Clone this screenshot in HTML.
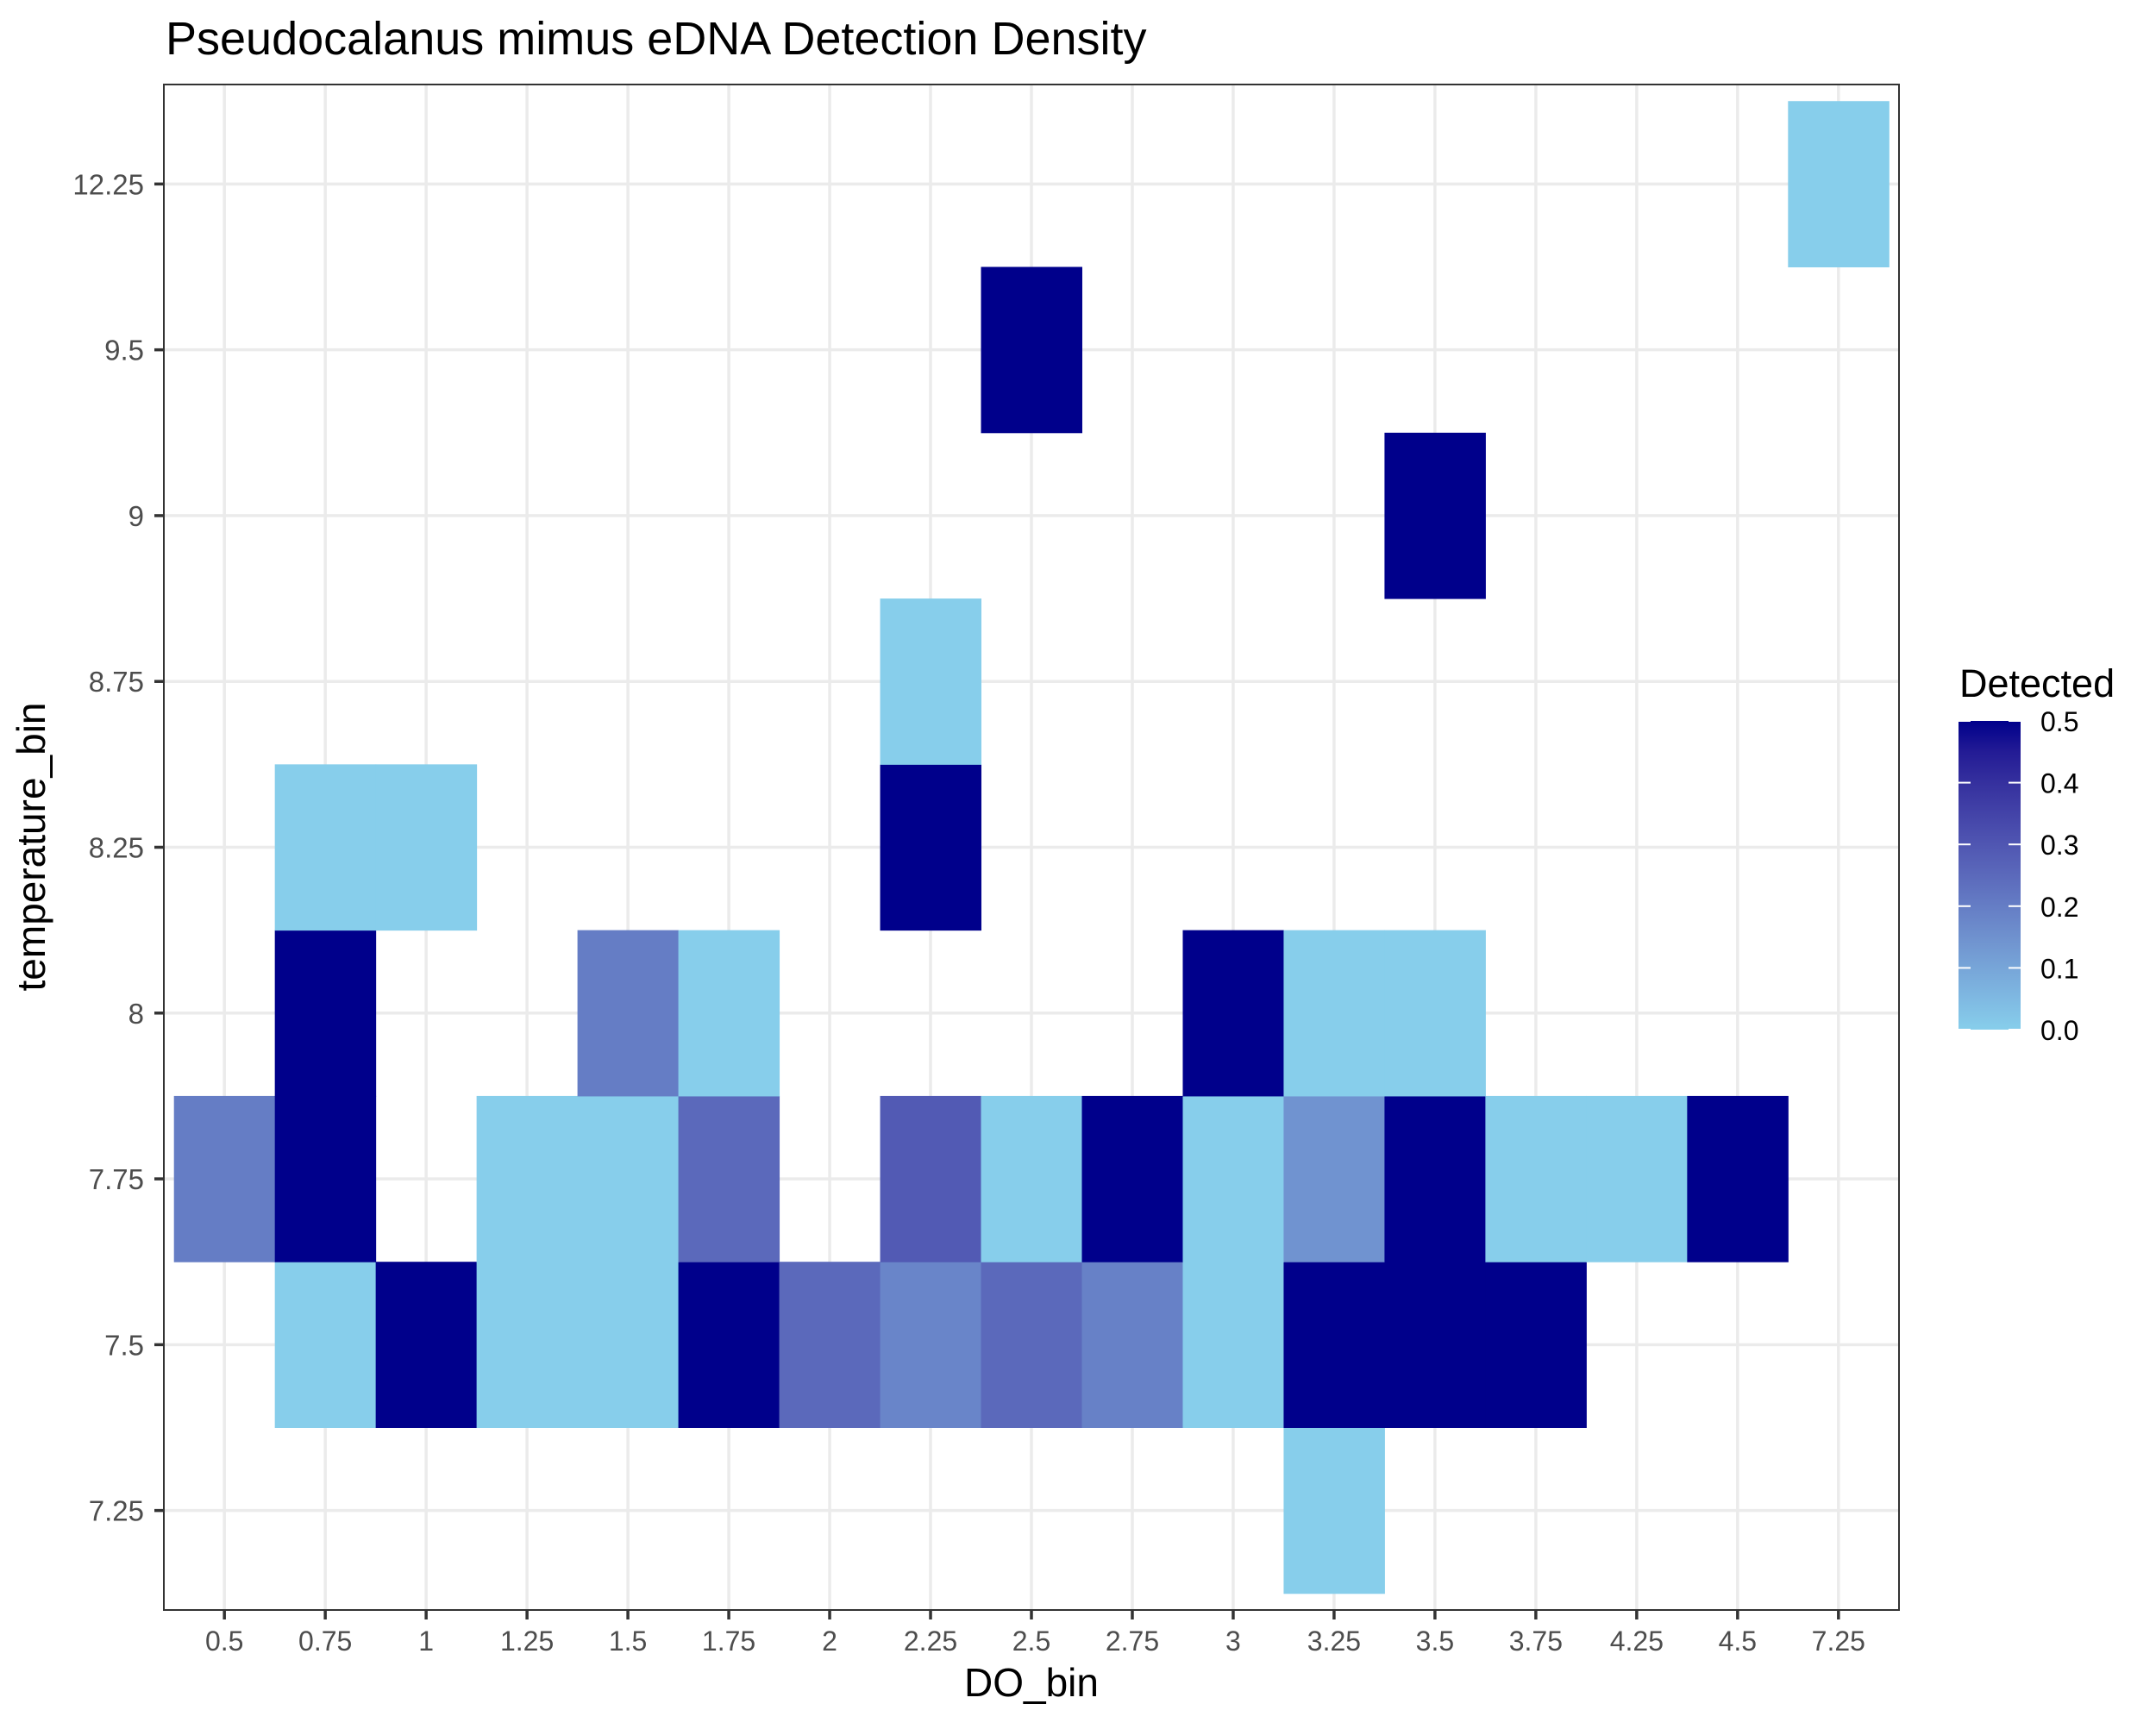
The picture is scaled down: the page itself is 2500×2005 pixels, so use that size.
<!DOCTYPE html>
<html><head><meta charset="utf-8">
<style>
html,body{margin:0;padding:0;background:#fff;}
svg text{font-family:"Liberation Sans",sans-serif;}
</style></head>
<body>
<svg id="chart" width="2500" height="2000" viewBox="0 0 2500 2000" xmlns="http://www.w3.org/2000/svg">
<rect width="2500" height="2000" fill="#fff"/>
<text x="192" y="63" font-size="54" fill="#000">Pseudocalanus mimus eDNA Detection Density</text>
<g id="grid"></g>
<g id="tiles"></g>
<rect x="190" y="98" width="2012" height="1769" fill="none" stroke="#333" stroke-width="2"/>
<g id="axes"></g>
<text x="1196" y="1967" font-size="46" text-anchor="middle" fill="#000">DO_bin</text>
<text transform="translate(52,982) rotate(-90)" font-size="46" text-anchor="middle" fill="#000">temperature_bin</text>
<g id="legend"></g>
</svg>
<script>
const xCats = ["0.5","0.75","1","1.25","1.5","1.75","2","2.25","2.5","2.75","3","3.25","3.5","3.75","4.25","4.5","7.25"];
const yCats = ["7.25","7.5","7.75","8","8.25","8.75","9","9.5","12.25"];
const tileX = ["3.25",
 "0.75","1","1.25","1.5","1.75","2","2.25","2.5","2.75","3","3.25","3.5","3.75",
 "0.5","0.75","1.25","1.5","1.75","2.25","2.5","2.75","3","3.25","3.5","3.75","4.25","4.5",
 "0.75","1.5","1.75","3","3.25","3.5",
 "0.75","1","2.25",
 "2.25","3.5","2.5","7.25"];
const tileY = ["7.25",
 "7.5","7.5","7.5","7.5","7.5","7.5","7.5","7.5","7.5","7.5","7.5","7.5","7.5",
 "7.75","7.75","7.75","7.75","7.75","7.75","7.75","7.75","7.75","7.75","7.75","7.75","7.75","7.75",
 "8","8","8","8","8","8",
 "8.25","8.25","8.25",
 "8.75","9","9.5","12.25"];
const detected = [0,
 0,0.5,0,0,0.5,0.25,0.18,0.25,0.19,0,0.5,0.5,0.5,
 0.2,0.5,0,0,0.25,0.29,0,0.5,0,0.143,0.5,0,0,0.5,
 0.5,0.2,0,0.5,0,0,
 0,0,0.5,
 0,0.5,0.5,0];
const legendTicks = [0,0.1,0.2,0.3,0.4,0.5];

const NS="http://www.w3.org/2000/svg";
const L=190,R=2202,T=98,B=1867;
const xStep=(R-L)/(xCats.length-1+1.2), yStep=(B-T)/(yCats.length-1+1.2);
function xPos(c){return L+(0.6+xCats.indexOf(c))*xStep;}
function yPos(c){return B-(0.6+yCats.indexOf(c))*yStep;}
function mk(tag,attrs,parent){const e=document.createElementNS(NS,tag);for(const k in attrs)e.setAttribute(k,attrs[k]);parent.appendChild(e);return e;}
function toLab(h){let r=parseInt(h.slice(1,3),16)/255,g=parseInt(h.slice(3,5),16)/255,b=parseInt(h.slice(5,7),16)/255;
 const f=c=>c>0.04045?Math.pow((c+0.055)/1.055,2.4):c/12.92;r=f(r);g=f(g);b=f(b);
 let X=(r*0.4124+g*0.3576+b*0.1805)/0.95047,Y=r*0.2126+g*0.7152+b*0.0722,Z=(r*0.0193+g*0.1192+b*0.9505)/1.08883;
 const q=t=>t>0.008856?Math.cbrt(t):7.787*t+16/116;X=q(X);Y=q(Y);Z=q(Z);return [116*Y-16,500*(X-Y),200*(Y-Z)];}
function fromLab(l){let Y=(l[0]+16)/116,X=l[1]/500+Y,Z=Y-l[2]/200;
 const q=t=>t*t*t>0.008856?t*t*t:(t-16/116)/7.787;X=q(X)*0.95047;Y=q(Y);Z=q(Z)*1.08883;
 let r=X*3.2406+Y*-1.5372+Z*-0.4986,g=X*-0.9689+Y*1.8758+Z*0.0415,b=X*0.0557+Y*-0.2040+Z*1.0570;
 const f=c=>{c=c>0.0031308?1.055*Math.pow(c,1/2.4)-0.055:12.92*c;return Math.max(0,Math.min(255,Math.round(c*255)));};
 return "rgb("+f(r)+","+f(g)+","+f(b)+")";}
const lo=toLab("#87CEEB"),hi=toLab("#00008B");
function col(v){const t=Math.max(0,Math.min(1,v/0.5));return fromLab([0,1,2].map(i=>lo[i]+(hi[i]-lo[i])*t));}

const grid=document.getElementById("grid");
xCats.forEach(c=>{const e=mk("line",{x1:xPos(c),x2:xPos(c),y1:T,y2:B,stroke:"#EBEBEB","stroke-width":3.5},grid);

});
yCats.forEach(c=>{const e=mk("line",{x1:L,x2:R,y1:yPos(c),y2:yPos(c),stroke:"#EBEBEB","stroke-width":3.5},grid);

});

const tiles=document.getElementById("tiles");
detected.forEach((v,i)=>{const e=mk("rect",{x:xPos(tileX[i])-xStep/2,y:yPos(tileY[i])-yStep/2,width:xStep+0.5,height:yStep+0.5,fill:col(v)},tiles);

});

const axes=document.getElementById("axes");
xCats.forEach(c=>{const x=xPos(c);
 const t=mk("line",{x1:x,x2:x,y1:B,y2:B+11,stroke:"#333","stroke-width":3.5},axes);
 
 
 const l=mk("text",{x:x,y:1914,"font-size":32,"text-anchor":"middle",fill:"#4D4D4D"},axes);l.textContent=c;
 
 });
yCats.forEach(c=>{const y=yPos(c);
 const t=mk("line",{x1:L-11,x2:L,y1:y,y2:y,stroke:"#333","stroke-width":3.5},axes);
 
 
 const l=mk("text",{x:167,y:y+12,"font-size":33,"text-anchor":"end",fill:"#4D4D4D"},axes);l.textContent=c;
 
 });

const leg=document.getElementById("legend");
const lt=mk("text",{x:2272,y:808,"font-size":45,fill:"#000"},leg);lt.textContent="Detected";


const LB0=1194,LB1=836,LX=2271,LW=72;
const defs=mk("defs",{},leg);const gr=mk("linearGradient",{id:"lg",x1:0,y1:1,x2:0,y2:0},defs);
for(let k=0;k<=10;k++){mk("stop",{offset:k/10,"stop-color":col(0.5*k/10)},gr);}
const bar=mk("rect",{x:LX,y:LB1,width:LW,height:LB0-LB1,fill:"url(#lg)"},leg);


legendTicks.forEach(v=>{const y=LB0-(v/0.5)*(LB0-LB1);
 mk("line",{x1:LX,x2:LX+14,y1:y,y2:y,stroke:"#fff","stroke-width":2},leg);
 mk("line",{x1:LX+LW-14,x2:LX+LW,y1:y,y2:y,stroke:"#fff","stroke-width":2},leg);
 const t=mk("text",{x:2366,y:y+12,"font-size":32,fill:"#000"},leg);t.textContent=v.toFixed(1);
 
 });
</script>
</body></html>
